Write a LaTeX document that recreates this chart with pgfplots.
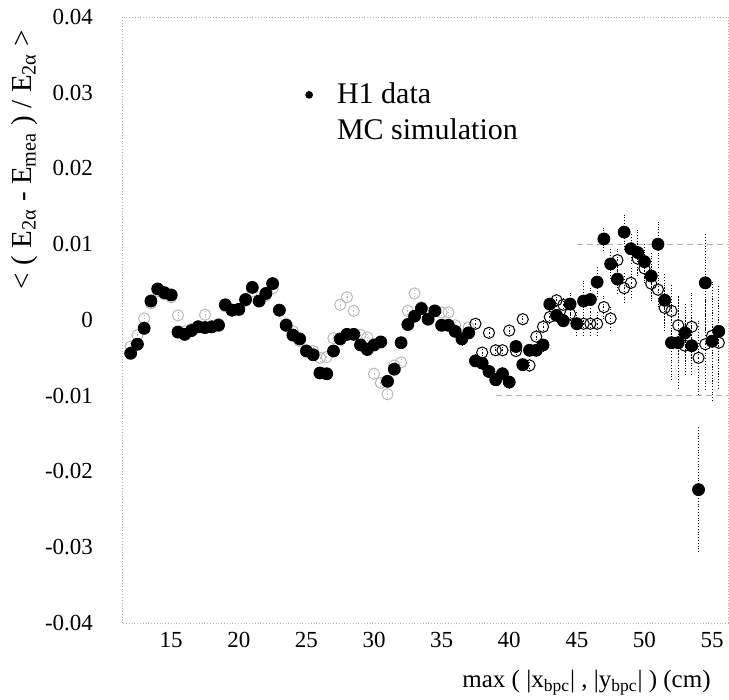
\documentclass[border=0pt]{standalone}
\usepackage{pgfplots}
\pgfplotsset{compat=1.18}
\usepackage{pgfplotstable}
\usepackage{fontspec}
\setmainfont{Liberation Serif}

% x: max(|x_bpc|,|y_bpc|) in cm; d/de: H1 data; m/me: MC simulation
\pgfplotstableread{
x     d        de      m        me
12.0  -0.0044  0.0007  -0.0035  0.0005
12.5  -0.0032  0.0007  -0.0020  0.0005
13.0  -0.0011  0.0007   0.0002  0.0005
13.5   0.0025  0.0007   0.0022  0.0005
14.0   0.0041  0.0007   0.0038  0.0005
14.5   0.0036  0.0007   0.0034  0.0005
15.0   0.0033  0.0007   0.0030  0.0005
15.5  -0.0016  0.0007   0.0006  0.0005
16.0  -0.0019  0.0007  -0.0015  0.0005
16.5  -0.0014  0.0007  -0.0012  0.0005
17.0  -0.0009  0.0007  -0.0008  0.0005
17.5  -0.0010  0.0007   0.0007  0.0005
18.0  -0.0009  0.0007  -0.0010  0.0005
18.5  -0.0007  0.0007  -0.0005  0.0005
19.0   0.0020  0.0007   0.0018  0.0005
19.5   0.0013  0.0007   0.0012  0.0005
20.0   0.0014  0.0007   0.0013  0.0005
20.5   0.0027  0.0007   0.0025  0.0005
21.0   0.0043  0.0007   0.0038  0.0005
21.5   0.0025  0.0007   0.0025  0.0005
22.0   0.0035  0.0007   0.0032  0.0005
22.5   0.0048  0.0007   0.0042  0.0005
23.0   0.0013  0.0007   0.0012  0.0005
23.5  -0.0007  0.0007  -0.0005  0.0005
24.0  -0.0020  0.0007  -0.0015  0.0005
24.5  -0.0025  0.0007  -0.0028  0.0005
25.0  -0.0041  0.0007  -0.0040  0.0005
25.5  -0.0046  0.0007  -0.0041  0.0005
26.0  -0.0070  0.0007  -0.0050  0.0005
26.5  -0.0071  0.0007  -0.0049  0.0005
27.0  -0.0041  0.0007  -0.0024  0.0005
27.5  -0.0025  0.0007   0.0020  0.0005
28.0  -0.0019  0.0007   0.0030  0.0005
28.5  -0.0019  0.0007   0.0012  0.0005
29.0  -0.0033  0.0007  -0.0020  0.0005
29.5  -0.0039  0.0007  -0.0023  0.0005
30.0  -0.0033  0.0007  -0.0071  0.0005
30.5  -0.0029  0.0007  -0.0083  0.0005
31.0  -0.0081  0.0007  -0.0098  0.0005
31.5  -0.0065  0.0007  -0.0060  0.0005
32.0  -0.0030  0.0007  -0.0056  0.0005
32.5  -0.0006  0.0007   0.0012  0.0005
33.0   0.0005  0.0007   0.0035  0.0005
33.5   0.0015  0.0007   0.0017  0.0005
34.0   0.0001  0.0007   0.0009  0.0005
34.5   0.0012  0.0007   0.0012  0.0005
35.0  -0.0007  0.0007   0.0010  0.0005
35.5  -0.0007  0.0007   0.0010  0.0005
36.0  -0.0015  0.0007  -0.0007  0.0005
36.5  -0.0025  0.0010  -0.0020  0.0005
37.0  -0.0017  0.0007  -0.0010  0.0005
37.5  -0.0054  0.0010  -0.0005  0.0007
38.0  -0.0057  0.0010  -0.0043  0.0007
38.5  -0.0068  0.0010  -0.0017  0.0007
39.0  -0.0079  0.0010  -0.0040  0.0007
39.5  -0.0071  0.0010  -0.0040  0.0007
40.0  -0.0082  0.0010  -0.0014  0.0007
40.5  -0.0035  0.0010  -0.0041  0.0007
41.0  -0.0059  0.0010   0.0001  0.0007
41.5  -0.0040  0.0010  -0.0060  0.0010
42.0  -0.0040  0.0010  -0.0022  0.0010
42.5  -0.0033  0.0010  -0.0009  0.0010
43.0   0.0021  0.0010   0.0004  0.0010
43.5   0.0006  0.0010   0.0026  0.0010
44.0  -0.0001  0.0010   0.0020  0.0010
44.5   0.0021  0.0015   0.0008  0.0010
45.0  -0.0005  0.0015  -0.0005  0.0015
45.5   0.0025  0.0026  -0.0005  0.0015
46.0   0.0027  0.0015  -0.0005  0.0015
46.5   0.0050  0.0020  -0.0005  0.0015
47.0   0.0107  0.0015   0.0017  0.0015
47.5   0.0074  0.0020   0.0002  0.0015
48.0   0.0054  0.0020   0.0079  0.0015
48.5   0.0116  0.0025   0.0042  0.0020
49.0   0.0094  0.0020   0.0049  0.0020
49.5   0.0089  0.0030   0.0081  0.0020
50.0   0.0077  0.0025   0.0068  0.0020
50.5   0.0058  0.0030   0.0048  0.0025
51.0   0.0100  0.0030   0.0040  0.0025
51.5   0.0026  0.0035   0.0016  0.0030
52.0  -0.0030  0.0050   0.0012  0.0035
52.5  -0.0030  0.0060  -0.0007  0.0040
53.0  -0.0017  0.0040  -0.0034  0.0040
53.5  -0.0034  0.0040  -0.0009  0.0045
54.0  -0.0224  0.0085  -0.0050  0.0050
54.5   0.0049  0.0065  -0.0032  0.0060
55.0  -0.0028  0.0080  -0.0021  0.0060
55.5  -0.0015  0.0060  -0.0030  0.0060
}\bpc

\begin{document}
\begin{tikzpicture}
\begin{axis}[
    name=ax,
    scale only axis,
    width=303pt, height=303pt,
    xmin=11.36, xmax=56.18,
    ymin=-0.04, ymax=0.04,
    xtick={15,20,25,30,35,40,45,50,55},
    xticklabels={15,20,25,30,35,40,45,50,55},
    ytick={-0.04,-0.03,-0.02,-0.01,0,0.01,0.02,0.03,0.04},
    yticklabels={-0.04,-0.03,-0.02,-0.01,0,0.01,0.02,0.03,0.04},
    scaled y ticks=false,
    tick style={draw=none},
    axis line style={gray!60, densely dotted},
    ticklabel style={font=\fontsize{11.5}{13}\selectfont},
    yticklabel style={xshift=-11pt},
    xticklabel style={yshift=-1pt},
    xlabel={max ( |x\textsubscript{bpc}| , |y\textsubscript{bpc}| ) (cm)},
    xlabel style={at={(axis description cs:0.983,0)}, anchor=north east,
        yshift=-20pt, font=\fontsize{12.5}{14}\selectfont},
    ylabel={< ( E\textsubscript{2α} - E\textsubscript{mea} ) / E\textsubscript{2α} >},
    ylabel style={at={(axis description cs:-0.128,0.765)}, anchor=south,
        font=\fontsize{14.5}{16}\selectfont},
    legend style={draw=none, fill=none, at={(axis description cs:0.292,0.905)},
        anchor=north west, font=\fontsize{15}{17}\selectfont,
        row sep=2pt},
    legend cell align=left,
]
\addplot[gray!60, densely dashed, forget plot] coordinates {(45,0.01) (56.18,0.01)};
\addplot[gray!60, densely dashed, forget plot] coordinates {(39,-0.01) (56.18,-0.01)};

% MC, faint where it hides behind the data
\addplot[only marks, mark=o, mark size=2.8pt, gray!55, line width=0.5pt,
    mark options={fill=white, solid}, forget plot,
    restrict x to domain=11:37.2,
    error bars/.cd, y dir=both, y explicit,
    error bar style={densely dotted, line width=0.4pt}, error mark=none]
    table[x=x, y=m, y error=me] {\bpc};
\addplot[only marks, mark=o, mark size=2.8pt, black, line width=0.5pt,
    mark options={fill=white, solid}, forget plot,
    restrict x to domain=37.3:57,
    error bars/.cd, y dir=both, y explicit,
    error bar style={densely dotted, line width=0.4pt}, error mark=none]
    table[x=x, y=m, y error=me] {\bpc};

\addplot[only marks, mark=*, mark size=3pt, black, forget plot,
    mark options={solid},
    error bars/.cd, y dir=both, y explicit,
    error bar style={densely dotted, line width=0.4pt}, error mark=none]
    table[x=x, y=d, y error=de] {\bpc};

\addlegendimage{legend image code/.code={
    \path[draw=none] (0,0) -- (0.42cm,0);
    \fill[black] (0,0) circle (1.7pt);}}
\addlegendentry{H1 data}
\addlegendimage{empty legend}
\addlegendentry{MC simulation}
\end{axis}
\pgfresetboundingbox
\useasboundingbox ([xshift=-61pt,yshift=-38.5pt]ax.south west) rectangle ([xshift=0.5pt,yshift=8.5pt]ax.north east);
\end{tikzpicture}
\end{document}
